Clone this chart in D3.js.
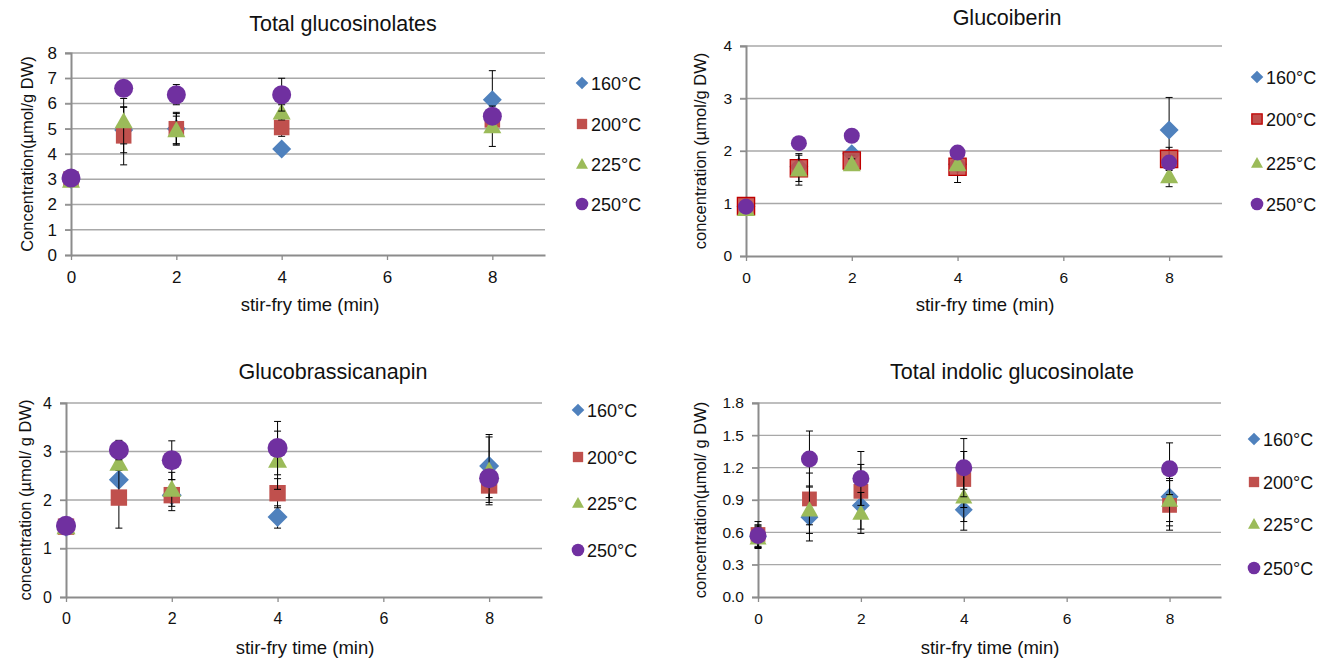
<!DOCTYPE html>
<html>
<head>
<meta charset="utf-8">
<script src="https://cdn.jsdelivr.net/npm/d3@7"></script>
<style>
  body { margin: 0; background: #fff; }
  text { font-family: "Liberation Sans", Arial, sans-serif; fill: #111; }
</style>
</head>
<body>
<svg width="1333" height="658"></svg>
<script>
// stir-fry times (min) and temperature series
var times = [0, 1, 2, 4, 8];
var series = ["160°C", "200°C", "225°C", "250°C"];
var colors = ["#4f81bd", "#c0504d", "#9bbb59", "#7030a0"];
var shapes = ["diamond", "square", "triangle", "circle"];

// Total glucosinolates: means and error (one row per series)
var totalMean = [[3.0, 4.95, 5.0, 4.2, 6.15], [3.0, 4.72, 5.0, 5.05, 5.35], [2.95, 5.3, 4.95, 5.65, 5.1], [3.05, 6.6, 6.35, 6.35, 5.5]];
var totalErr  = [[0.1, 0.9, 0.6, 0.1, 1.15], [0.1, 1.15, 0.65, 0.35, 0.3], [0.1, 0.9, 0.55, 0.3, 0.8], [0.1, 0.25, 0.4, 0.65, 0.3]];

// Glucoiberin
var iberinMean = [[0.95, 1.7, 1.95, 1.75, 2.4], [0.95, 1.67, 1.82, 1.7, 1.85], [0.9, 1.65, 1.75, 1.75, 1.52], [0.94, 2.15, 2.29, 1.97, 1.78]];
var iberinErr  = [[0.05, 0.1, 0.1, 0.1, 0.62], [0.05, 0.25, 0.1, 0.3, 0.22], [0.05, 0.3, 0.1, 0.1, 0.2], [0.05, 0.1, 0.1, 0.1, 0.1]];

// Glucobrassicanapin
var brassMean = [[1.45, 2.42, 2.1, 1.65, 2.7], [1.45, 2.05, 2.1, 2.14, 2.3], [1.45, 2.76, 2.22, 2.82, 2.6], [1.47, 3.03, 2.82, 3.07, 2.45]];
var brassErr  = [[0.05, 0.1, 0.1, 0.23, 0.65], [0.05, 0.63, 0.32, 0.3, 0.35], [0.05, 0.15, 0.35, 0.6, 0.7], [0.05, 0.2, 0.4, 0.55, 0.1]];

// Total indolic glucosinolate
var indolMean = [[0.56, 0.74, 0.85, 0.81, 0.93], [0.58, 0.91, 0.98, 1.09, 0.85], [0.55, 0.81, 0.78, 0.93, 0.9], [0.57, 1.28, 1.1, 1.2, 1.19]];
var indolErr  = [[0.1, 0.22, 0.22, 0.19, 0.27], [0.12, 0.24, 0.25, 0.26, 0.23], [0.1, 0.22, 0.19, 0.23, 0.2], [0.1, 0.26, 0.25, 0.27, 0.24]];

var xTicks = [0, 2, 4, 6, 8];

// marker radius per series (diamond, square, triangle, circle) for each panel
var panels = [
  { title: "Total glucosinolates", titleX: 343, titleY: 31, ylabel: "Concentration(µmol/g DW)", ylabX: 27,
    x0: 71, x1: 545, yTop: 53, yBot: 255, yMax: 8, yTicks: d3.range(0, 9, 1), fmt: d3.format("d"), tickFont: 17,
    mean: totalMean, err: totalErr, r: [9.5, 9.5, 9.5, 9.5], legX: 582, legY: [83, 124, 164, 204], xlabY: 311, xlabX: 310 },
  { title: "Glucoiberin", titleX: 1007, titleY: 25, ylabel: "concentration (µmol/g DW)", ylabX: 700,
    x0: 746, x1: 1222, yTop: 46, yBot: 256, yMax: 4, yTicks: d3.range(0, 5, 1), fmt: d3.format("d"), tickFont: 15.5,
    mean: iberinMean, err: iberinErr, r: [9.5, 10.5, 9.5, 8], legX: 1257, legY: [77, 119, 163, 204], xlabY: 311, xlabX: 985, redEdge: true },
  { title: "Glucobrassicanapin", titleX: 333, titleY: 379, ylabel: "concentration (µmol/ g DW)", ylabX: 25,
    x0: 66, x1: 542, yTop: 403, yBot: 597, yMax: 4, yTicks: d3.range(0, 5, 1), fmt: d3.format("d"), tickFont: 16,
    mean: brassMean, err: brassErr, r: [10, 10, 10, 10], legX: 578, legY: [410, 457, 503, 550], xlabY: 654, xlabX: 305 },
  { title: "Total indolic glucosinolate", titleX: 1012, titleY: 379, ylabel: "concentration(µmol/ g DW)", ylabX: 700,
    x0: 758, x1: 1221, yTop: 403, yBot: 597, yMax: 1.8, yTicks: [0, 0.3, 0.6, 0.9, 1.2, 1.5, 1.8], fmt: d3.format(".1f"), tickFont: 15.5,
    mean: indolMean, err: indolErr, r: [9, 9, 9, 8.5], legX: 1254, legY: [439, 482, 524, 568], xlabY: 654, xlabX: 990 }
];

function markerPath(shape, r) {
  var p = d3.path();
  if (shape === "diamond") {
    p.moveTo(0, -r); p.lineTo(r, 0); p.lineTo(0, r); p.lineTo(-r, 0); p.closePath();
  } else if (shape === "square") {
    var s = r * 0.82;
    p.rect(-s, -s, 2 * s, 2 * s);
  } else if (shape === "triangle") {
    var w = r * 0.95;
    p.moveTo(0, -r * 0.95); p.lineTo(w, r * 0.75); p.lineTo(-w, r * 0.75); p.closePath();
  } else {
    p.arc(0, 0, r, 0, 2 * Math.PI);
  }
  return p.toString();
}

var svg = d3.select("svg");

panels.forEach(function(P) {
  var x = d3.scaleLinear().domain([0, 9]).range([P.x0, P.x1]);
  var y = d3.scaleLinear().domain([0, P.yMax]).range([P.yBot, P.yTop]);
  var g = svg.append("g");

  // gridlines
  g.selectAll("line.grid").data(P.yTicks.slice(1)).enter().append("line")
    .attr("x1", P.x0 - 6).attr("x2", P.x1)
    .attr("y1", function(d) { return y(d); }).attr("y2", function(d) { return y(d); })
    .attr("stroke", "#a8a8a8").attr("stroke-width", 1.3);

  // y axis
  var yAxis = d3.axisLeft(y).tickValues(P.yTicks).tickFormat(P.fmt).tickSize(6).tickPadding(8);
  var ya = g.append("g").attr("transform", "translate(" + P.x0 + ",0)").call(yAxis);
  ya.attr("font-size", null).attr("font-family", null);
  ya.select(".domain").attr("stroke", "#8c8c8c").attr("stroke-width", 2);
  ya.selectAll(".tick line").attr("stroke", "#8c8c8c").attr("stroke-width", 1.3);
  ya.selectAll(".tick text").style("font-size", P.tickFont + "px").attr("fill", "#111");

  // x axis
  var xAxis = d3.axisBottom(x).tickValues(xTicks).tickSize(5).tickPadding(11).tickSizeOuter(0);
  var xa = g.append("g").attr("transform", "translate(0," + P.yBot + ")").call(xAxis);
  xa.attr("font-size", null).attr("font-family", null);
  xa.select(".domain").attr("stroke", "#8c8c8c").attr("stroke-width", 2);
  xa.selectAll(".tick line").attr("stroke", "#8c8c8c").attr("stroke-width", 1.3);
  xa.selectAll(".tick text").style("font-size", P.tickFont + "px").attr("fill", "#111");

  // series: error bars then markers
  series.forEach(function(name, si) {
    var pts = times.map(function(t, i) { return { t: t, v: P.mean[si][i], e: P.err[si][i] }; });
    var eb = g.append("g").attr("stroke", "#000").attr("stroke-width", 1);
    pts.forEach(function(d) {
      var cx = x(d.t), yl = y(d.v - d.e), yh = y(d.v + d.e);
      eb.append("line").attr("x1", cx).attr("x2", cx).attr("y1", yl).attr("y2", yh);
      eb.append("line").attr("x1", cx - 3.5).attr("x2", cx + 3.5).attr("y1", yl).attr("y2", yl);
      eb.append("line").attr("x1", cx - 3.5).attr("x2", cx + 3.5).attr("y1", yh).attr("y2", yh);
    });
    g.append("g").selectAll("path").data(pts).enter().append("path")
      .attr("d", markerPath(shapes[si], P.r[si]))
      .attr("transform", function(d) { return "translate(" + x(d.t) + "," + y(d.v) + ")"; })
      .attr("fill", colors[si])
      .attr("fill-opacity", P.redEdge && si === 1 ? 0.9 : 1)
      .attr("stroke", P.redEdge && si === 1 ? "#c00000" : "none")
      .attr("stroke-width", 1.3);
  });

  // legend
  series.forEach(function(name, si) {
    var ly = P.legY[si];
    g.append("path")
      .attr("d", markerPath(shapes[si], 6.3))
      .attr("transform", "translate(" + P.legX + "," + ly + ")")
      .attr("fill", colors[si])
      .attr("stroke", P.redEdge && si === 1 ? "#c00000" : "none")
      .attr("stroke-width", 1.3);
    g.append("text").attr("x", P.legX + 9).attr("y", ly + 6.5)
      .style("font-size", "18px").text(name);
  });

  // titles
  g.append("text").attr("x", P.titleX).attr("y", P.titleY).attr("text-anchor", "middle")
    .style("font-size", "21.5px").text(P.title);
  g.append("text").attr("x", P.xlabX).attr("y", P.xlabY).attr("text-anchor", "middle")
    .style("font-size", "18.5px").text("stir-fry time (min)");
  var ymid = (P.yTop + P.yBot) / 2;
  g.append("text").attr("transform", "translate(" + (P.ylabX + 6) + "," + ymid + ") rotate(-90)")
    .attr("text-anchor", "middle").style("font-size", "16.5px").text(P.ylabel);
});
</script>
</body>
</html>
